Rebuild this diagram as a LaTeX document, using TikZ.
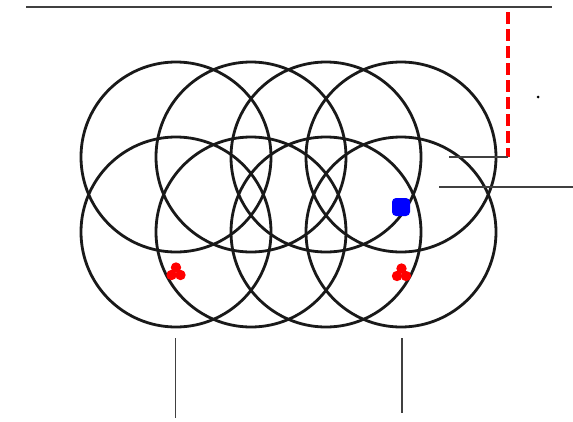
\documentclass[tikz,border=0pt]{standalone}
\usepackage{tikz}
\usetikzlibrary{calc}

\begin{document}
\begin{tikzpicture}[x=1pt, y=-1pt,
    ring/.style={line width=2.8pt, black!90},
    thin line/.style={line width=1.5pt, black!75},
    red dash/.style={red, line width=3.2pt, dash pattern=on 12pt off 5pt}]
            \useasboundingbox (0,0) rectangle (573,421);
            % centres of the two rows of circles
            \foreach \i/\x in {1/176, 2/251, 3/326, 4/401} {
                \coordinate (T\i) at (\x,157);
                \coordinate (B\i) at (\x,232);
            }
            \foreach \i in {1,...,4} {
                \draw[ring] (T\i) circle (95);
                \draw[ring] (B\i) circle (95);
            }
            % lines
            \coordinate (L1) at (26,7);   \coordinate (L2) at (552,7);
            \coordinate (D1) at (508,12); \coordinate (D2) at (508,157);
            \coordinate (S1) at (449,157);
            \coordinate (H1) at (439,187); \coordinate (H2) at (573,187);
            \coordinate (V1) at (175.5,338); \coordinate (V2) at (175.5,418);
            \coordinate (W1) at (402,338);   \coordinate (W2) at (402,413);
            \draw[thin line] (L1) -- (L2);
            \draw[red dash] (D1) -- (D2);
            \draw[thin line] (S1) -- (D2);
            \draw[thin line] (H1) -- (H2);
            \draw[thin line] (V1) -- (V2);
            \draw[thin line] (W1) -- (W2);
            % marks
            \fill[black] (538,97) circle (1.5);
            \fill[blue, rounded corners=4pt] (392,198) rectangle (410,216);
            \foreach \cx/\cy in {176/272, 401.5/273} {
                \fill[red] (\cx,\cy-4.5) circle (5.2);
                \fill[red] (\cx-4.5,\cy+3) circle (5.2);
                \fill[red] (\cx+4.5,\cy+3) circle (5.2);
            }
            %\draw[thin line] (T4) -- (B4);
        \end{tikzpicture}
\end{document}
